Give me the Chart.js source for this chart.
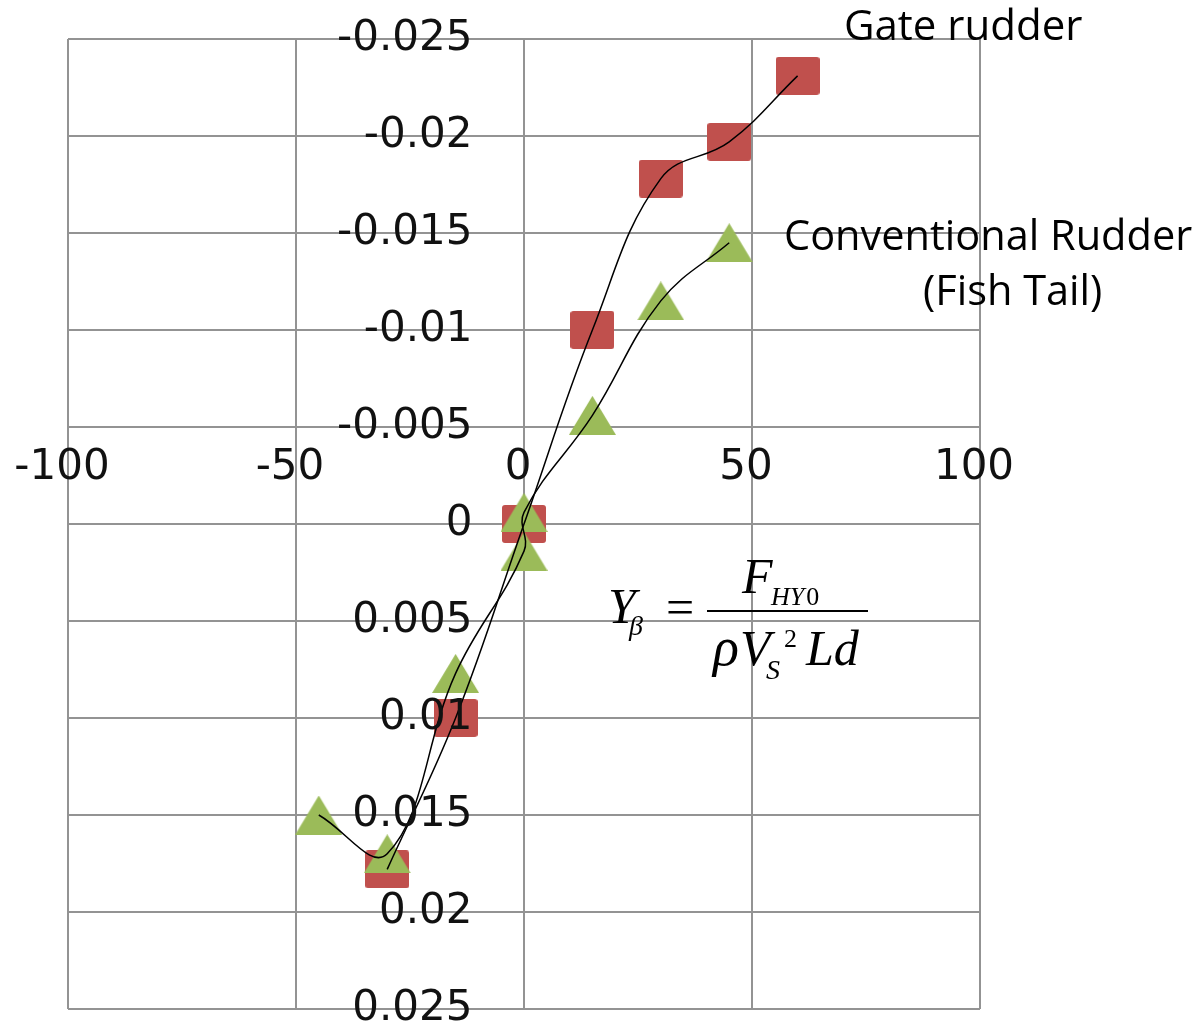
<!DOCTYPE html>
<html>
<head>
<meta charset="utf-8">
<script src="https://cdn.jsdelivr.net/npm/chart.js@4.4.1/dist/chart.umd.min.js"></script>
<style>
  body { margin: 0; background: #fff; }
  canvas { display: block; }
</style>
</head>
<body>
<canvas id="myChart" width="1202" height="1030"></canvas>
<script>
// values (x: angle, y: Y beta)
const gateX = [-30, -15, 0, 15, 30, 45, 60];
const gateY = [0.0178, 0.0100, 0.0000, -0.0100, -0.0178, -0.0197, -0.0231];

const fishX = [-45, -30, -15, 0, 0, 15, 30, 45];
const fishY = [0.0150, 0.0170, 0.0077, 0.0014, -0.0006, -0.0056, -0.0115, -0.0145];

const xTickLabels = ['-100', '-50', '0', '50', '100'];
const yTickLabels = ['-0.025', '-0.02', '-0.015', '-0.01', '-0.005', '0',
    '0.005', '0.01', '0.015', '0.02', '0.025'];

const xMin = -100, xMax = 100, xStep = 50;
const yMin = -0.025, yMax = 0.025, yStep = 0.005;

const gatePoints = gateX.map((x, i) => ({ x, y: gateY[i] }));
const fishPoints = fishX.map((x, i) => ({ x, y: fishY[i] }));

function squareMarker(w, h, color) {
    const c = document.createElement('canvas');
    c.width = w;
    c.height = h;
    const g = c.getContext('2d');
    g.fillStyle = color;
    g.beginPath();
    g.roundRect(0, 0, w, h, 3);
    g.fill();
    return c;
}

function triangleMarker(w, h, color) {
    const c = document.createElement('canvas');
    c.width = w;
    c.height = h;
    const g = c.getContext('2d');
    g.fillStyle = color;
    g.beginPath();
    g.moveTo(w / 2, 0);
    g.lineTo(w, h);
    g.lineTo(0, h);
    g.closePath();
    g.fill();
    return c;
}

const annotations = {
    id: 'annotations',
    afterDraw(chart) {
        const c = chart.ctx;
        c.save();
        c.fillStyle = '#000';
        c.textBaseline = 'alphabetic';
        c.textAlign = 'left';

        c.font = '42px "Open Sans"';
        c.fillText('Gate rudder', 844, 40);
        c.font = '41.5px "Open Sans"';
        c.fillText('Conventional Rudder', 784, 250);
        c.fillText('(Fish Tail)', 923, 305);

        // formula Y_beta = F_HY0 / (rho V_S^2 L d)
        const it = size => 'italic ' + size + 'px "Liberation Serif"';
        const up = size => size + 'px "Liberation Serif"';
        c.font = it(50); c.fillText('Y', 608, 623);
        c.font = it(28); c.fillText('\u03b2', 629, 635);
        c.font = up(50); c.fillText('=', 666, 624);
        c.fillRect(707, 610, 161, 2);
        c.font = it(50); c.fillText('F', 742, 593);
        c.font = it(26); c.fillText('HY', 771, 605);
        const hy = c.measureText('HY').width;
        c.font = up(26); c.fillText('0', 771 + hy + 2, 605);
        c.font = it(54); c.fillText('\u03c1', 713, 665);
        c.font = it(50); c.fillText('V', 740, 665);
        c.font = it(28); c.fillText('S', 766, 679);
        c.font = up(26); c.fillText('2', 784, 647);
        c.font = it(50); c.fillText('Ld', 806, 665);
        c.restore();
    }
};

const ctx = document.getElementById('myChart');

new Chart(ctx, {
    type: 'scatter',
    data: {
        datasets: [
            {
                label: 'Gate rudder',
                data: gatePoints,
                pointStyle: squareMarker(44, 38, '#C0504D'),
                pointRadius: 20,
                showLine: false,
                order: 4
            },
            {
                label: 'Conventional Rudder (Fish Tail)',
                data: fishPoints,
                pointStyle: triangleMarker(47, 39, '#9BBB59'),
                pointRadius: 20,
                showLine: false,
                order: 3
            },
            {
                label: 'Gate rudder line',
                data: gatePoints,
                showLine: true,
                borderColor: '#000',
                borderWidth: 1.5,
                pointRadius: 0,
                tension: 0.4,
                order: 2
            },
            {
                label: 'Fish tail line',
                data: fishPoints,
                showLine: true,
                borderColor: '#000',
                borderWidth: 1.5,
                pointRadius: 0,
                tension: 0.4,
                order: 1
            }
        ]
    },
    options: {
        responsive: false,
        animation: false,
        devicePixelRatio: 1,
        layout: {
            padding: { left: 68, right: 222, top: 39, bottom: 18 }
        },
        plugins: {
            legend: { display: false },
            tooltip: { enabled: false }
        },
        scales: {
            x: {
                type: 'linear',
                min: xMin,
                max: xMax,
                position: { y: -0.0042 },
                grid: { color: '#939393', lineWidth: 2, drawTicks: false },
                border: { display: false },
                ticks: {
                    stepSize: xStep,
                    padding: 0,
                    labelOffset: -6,
                    maxRotation: 0,
                    z: 1,
                    color: '#111',
                    font: { family: 'DejaVu Sans', size: 42, lineHeight: 1.2 },
                    callback: value => xTickLabels[Math.round((value - xMin) / xStep)]
                }
            },
            y: {
                type: 'linear',
                min: yMin,
                max: yMax,
                reverse: true,
                position: { x: -11.3 },
                grid: { color: '#939393', lineWidth: 2, drawTicks: false },
                border: { display: false },
                ticks: {
                    stepSize: yStep,
                    padding: 0,
                    z: 1,
                    color: '#111',
                    font: { family: 'DejaVu Sans', size: 42, lineHeight: 0.8 },
                    callback: value => yTickLabels[Math.round((value - yMin) / yStep)]
                }
            }
        }
    },
    plugins: [annotations]
});
</script>
</body>
</html>
